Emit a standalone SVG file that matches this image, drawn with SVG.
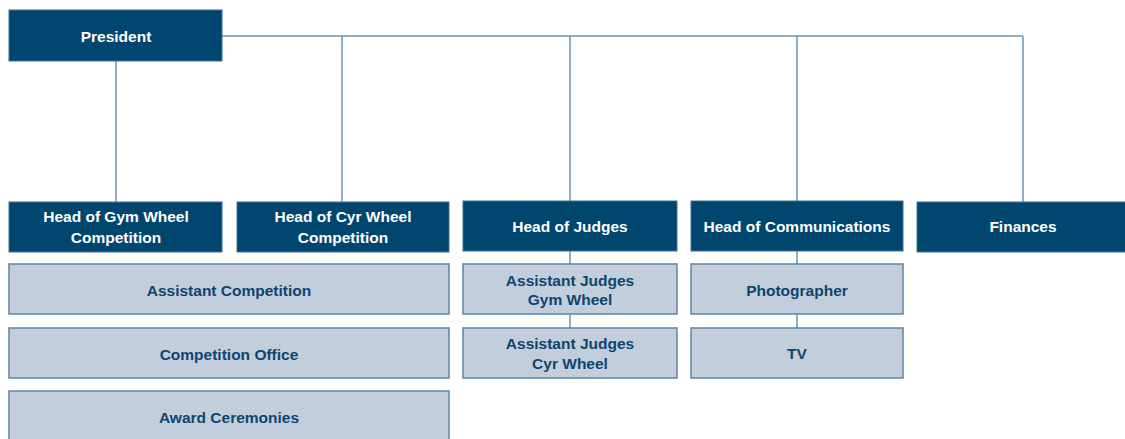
<svg xmlns="http://www.w3.org/2000/svg" width="1125" height="439" viewBox="0 0 1125 439">
<style>
.dark{fill:#00466e;stroke:#3f7096;stroke-width:1}
.light{fill:#c2cedc;stroke:#5b86a7;stroke-width:1.5}
.conn{stroke:#6a95b3;stroke-width:1.5;fill:none}
text{font-family:"Liberation Sans",Arial,sans-serif;font-weight:bold;font-size:15.5px;text-anchor:middle;dominant-baseline:central}
.wt{fill:#ffffff}
.bt{fill:#0b4670}
</style>
<rect width="1125" height="439" fill="#ffffff"/>
<g id="connectors">
<path class="conn" d="M222 36 H1023 M342 36 V202 M570 36 V201 M797 36 V201 M1023 36 V202 M116 61 V202 M570 251 V264 M570 314 V328 M797 251 V264 M797 314 V328"/>
</g>
<g id="president"><rect class="dark" x="9" y="10" width="213" height="51"/><text class="wt" x="116" y="36">President</text></g>
<g id="head-gym"><rect class="dark" x="9" y="202" width="213" height="50"/><text class="wt" x="116" y="216.5">Head of Gym Wheel</text><text class="wt" x="116" y="237">Competition</text></g>
<g id="head-cyr"><rect class="dark" x="237" y="202" width="212" height="50"/><text class="wt" x="343" y="216.5">Head of Cyr Wheel</text><text class="wt" x="343" y="237">Competition</text></g>
<g id="head-judges"><rect class="dark" x="463" y="201" width="214" height="50"/><text class="wt" x="570" y="226">Head of Judges</text></g>
<g id="head-comm"><rect class="dark" x="691" y="201" width="212" height="50"/><text class="wt" x="797" y="226">Head of Communications</text></g>
<g id="finances"><rect class="dark" x="917" y="202" width="209" height="50"/><text class="wt" x="1023" y="226">Finances</text></g>
<g id="assistant-competition"><rect class="light" x="9" y="264" width="440" height="50"/><text class="bt" x="229" y="290">Assistant Competition</text></g>
<g id="competition-office"><rect class="light" x="9" y="328" width="440" height="50"/><text class="bt" x="229" y="354">Competition Office</text></g>
<g id="award-ceremonies"><rect class="light" x="9" y="391" width="440" height="52"/><text class="bt" x="229" y="417">Award Ceremonies</text></g>
<g id="assistant-judges-gym"><rect class="light" x="463" y="264" width="214" height="50"/><text class="bt" x="570" y="280">Assistant Judges</text><text class="bt" x="570" y="299.5">Gym Wheel</text></g>
<g id="assistant-judges-cyr"><rect class="light" x="463" y="328" width="214" height="50"/><text class="bt" x="570" y="343.5">Assistant Judges</text><text class="bt" x="570" y="363">Cyr Wheel</text></g>
<g id="photographer"><rect class="light" x="691" y="264" width="212" height="50"/><text class="bt" x="797" y="290">Photographer</text></g>
<g id="tv"><rect class="light" x="691" y="328" width="212" height="50"/><text class="bt" x="797" y="353">TV</text></g>
</svg>
